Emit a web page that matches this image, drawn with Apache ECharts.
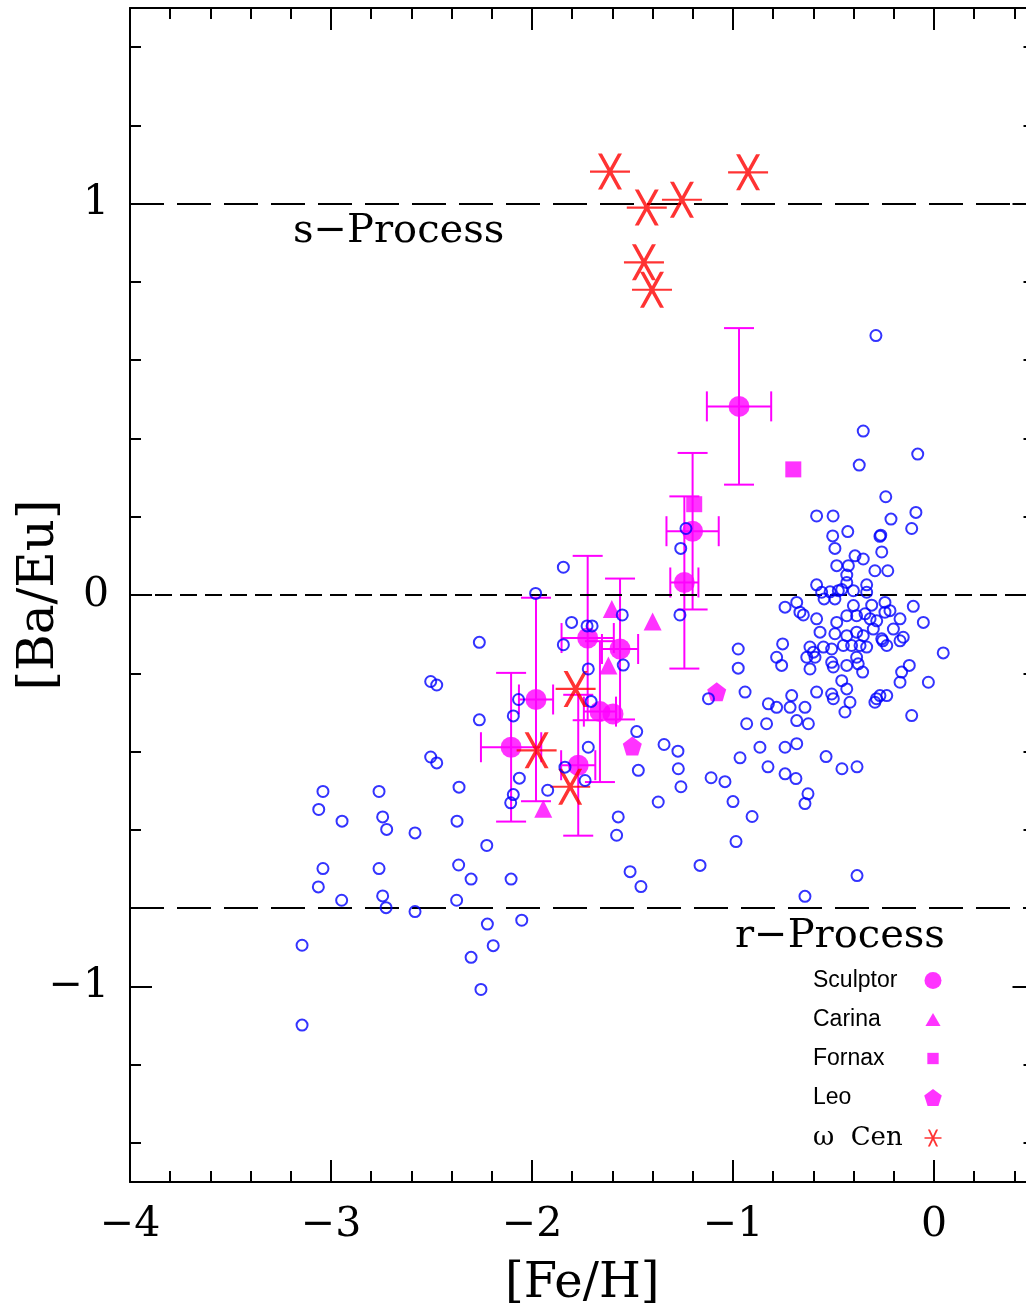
<!DOCTYPE html>
<html><head><meta charset="utf-8">
<script src="https://cdn.jsdelivr.net/npm/echarts@6/dist/echarts.min.js"></script>
<style>html,body{margin:0;padding:0;background:#fff}#c{width:1026px;height:1311px}</style>
</head><body><div id="c"></div>
<script>
// ---------- data ----------
// Field (Milky Way) stars: [Fe/H], [Ba/Eu]
const fieldStars = [
  [-3.144,-0.895],[-3.144,-1.099],[-3.04,-0.502],[-3.061,-0.548],[-2.945,-0.578],[-2.761,-0.502],[-2.743,-0.567],
  [-2.723,-0.599],[-2.582,-0.608],[-2.363,-0.491],[-2.373,-0.578],[-2.225,-0.64],[-3.04,-0.699],[-3.063,-0.746],
  [-2.947,-0.78],[-2.761,-0.699],[-2.743,-0.769],[-2.726,-0.799],[-2.582,-0.809],[-2.365,-0.69],[-2.303,-0.726],
  [-2.104,-0.726],[-2.375,-0.78],[-2.222,-0.841],[-2.051,-0.831],[-2.193,-0.896],[-2.303,-0.926],[-2.254,-1.008],
  [-2.262,-0.121],[-2.504,-0.221],[-2.474,-0.23],[-2.262,-0.319],[-2.504,-0.414],[-2.474,-0.429],[-2.067,-0.267],
  [-2.093,-0.309],[-2.063,-0.468],[-2.093,-0.51],[-2.106,-0.531],[-1.922,-0.499],
  [-1.844,0.071],[-1.982,0.004],[-1.844,-0.127],[-1.803,-0.07],[-1.726,-0.079],[-1.701,-0.079],[-1.551,-0.051],
  [-1.72,-0.189],[-1.546,-0.179],[-1.706,-0.272],[-1.479,-0.349],[-1.343,-0.382],[-1.274,-0.399],[-1.72,-0.389],
  [-1.471,-0.448],[-1.836,-0.44],[-1.736,-0.474],[-1.372,-0.529],[-1.571,-0.567],[-1.579,-0.614],[-1.272,-0.444],
  [-1.259,-0.49],[-1.164,-0.691],[-1.512,-0.707],[-1.458,-0.745],
  [-1.26,0.119],[-1.234,0.17],[-1.264,-0.051],[-0.974,-0.138],[-0.974,-0.187],[-0.94,-0.248],[-1.122,-0.265],
  [-1.109,-0.467],[-1.04,-0.477],[-1.0,-0.528],[-0.985,-0.63],[-0.905,-0.566],[-0.965,-0.416],[-0.932,-0.329],
  [-0.833,-0.329],[-0.866,-0.389],[-0.741,-0.389],[-0.683,-0.38],[-0.826,-0.439],[-0.741,-0.457],[-0.687,-0.469],
  [-0.627,-0.508],[-0.642,-0.533],[-0.642,-0.77],[-0.537,-0.413],[-0.458,-0.444],[-0.383,-0.439],[-0.383,-0.717],
  [-0.289,0.663],[-0.352,0.419],[-0.081,0.36],[-0.372,0.332],[-0.24,0.251],[-0.09,0.211],[-0.214,0.194],
  [-0.111,0.17],[-0.584,0.202],[-0.502,0.202],[-0.504,0.151],[-0.429,0.162],[-0.269,0.15],[-0.265,0.153],
  [-0.493,0.119],[-0.26,0.11],[-0.393,0.1],[-0.352,0.092],[-0.484,0.075],[-0.426,0.075],[-0.294,0.062],
  [-0.23,0.062],[-0.434,0.051],[-0.434,0.032],[-0.584,0.026],[-0.335,0.026],[-0.335,0.007],[-0.559,0.007],
  [-0.517,0.008],[-0.547,-0.01],[-0.493,-0.01],[-0.459,0.014],[-0.401,0.011],[-0.476,0.011],[-0.741,-0.031],
  [-0.683,-0.019],[-0.667,-0.044],[-0.65,-0.051],[-0.401,-0.027],[-0.385,-0.053],[-0.31,-0.026],[-0.244,-0.019],
  [-0.219,-0.04],[-0.103,-0.029],[-0.584,-0.061],[-0.484,-0.07],[-0.434,-0.053],[-0.343,-0.048],[-0.318,-0.061],
  [-0.285,-0.066],[-0.169,-0.061],[-0.053,-0.07],[-0.244,-0.044],[-0.202,-0.087],[-0.567,-0.095],[-0.493,-0.099],
  [-0.434,-0.104],[-0.385,-0.095],[-0.352,-0.104],[-0.302,-0.087],[-0.26,-0.112],[-0.255,-0.117],[-0.235,-0.129],
  [-0.169,-0.117],[-0.153,-0.108],[-0.617,-0.133],[-0.592,-0.159],[-0.6,-0.146],[-0.55,-0.133],[-0.509,-0.138],
  [-0.451,-0.129],[-0.41,-0.129],[-0.368,-0.129],[-0.335,-0.133],[0.046,-0.148],[-0.753,-0.125],[-0.783,-0.159],
  [-0.758,-0.18],[-0.633,-0.159],[-0.617,-0.189],[-0.509,-0.172],[-0.501,-0.184],[-0.434,-0.18],[-0.385,-0.159],
  [-0.377,-0.176],[-0.355,-0.197],[-0.123,-0.18],[-0.161,-0.197],[-0.169,-0.223],[-0.028,-0.223],[-0.459,-0.219],
  [-0.434,-0.24],[-0.584,-0.248],[-0.509,-0.253],[-0.501,-0.265],[-0.708,-0.257],[-0.824,-0.278],[-0.783,-0.287],
  [-0.716,-0.287],[-0.642,-0.287],[-0.418,-0.274],[-0.443,-0.299],[-0.294,-0.274],[-0.286,-0.265],[-0.269,-0.257],
  [-0.235,-0.257],[-0.111,-0.308],[-0.625,-0.329],[-0.683,-0.321]
];

// Sculptor: value and error bars
const sculptorFeH  = [-0.970, -1.201, -1.242, -1.562, -1.723, -1.980, -2.104, -1.770, -1.662, -1.597];
const sculptorBaEu = [ 0.482,  0.163,  0.032, -0.138, -0.110, -0.267, -0.389, -0.435, -0.298, -0.304];
const sculptorFeHErr  = [0.16, 0.13, 0.07, 0.09, 0.13, 0.085, 0.15, 0.085, 0.08, 0];
const sculptorBaEuErr = [0.20, 0.20, 0.22, 0.18, 0.21, 0.26, 0.19, 0.18, 0.18, 0];

const carinaFeH  = [-1.603, -1.400, -1.620, -1.944];
const carinaBaEu = [-0.036, -0.068, -0.180, -0.546];

const fornaxFeH  = [-0.700, -1.193];
const fornaxBaEu = [ 0.321,  0.232];

const leoFeH  = [-1.501, -1.081];
const leoBaEu = [-0.386, -0.247];

const omegaCenFeH  = [-1.612, -0.925, -1.429, -1.254, -1.443, -1.403, -1.783, -1.977, -1.810];
const omegaCenBaEu = [ 1.082,  1.080,  0.990,  1.010,  0.850,  0.780, -0.240, -0.397, -0.490];

// reference levels: s-process, solar, r-process
const processLevels = [1, 0, -0.8];
const axisTitleX = '[Fe/H]';
const axisTitleY = '[Ba/Eu]';

// ---------- chart ----------
const SERIF = 'DejaVu Serif';
const zip = (a, b) => a.map((v, i) => [v, b[i]]);
const fmt = v => {
  const r = Math.round(v);
  if (Math.abs(v - r) > 1e-6) return '';
  return r < 0 ? '\u2212' + Math.abs(r) : String(r);
};
const lineBlack = {color: '#000', width: 2};
function axis(dim, pos, major, showLine) {
  const isX = dim === 'x';
  return {
    type: 'value', position: pos,
    min: isX ? -4 : -1.5, max: isX ? 0.5 : 1.5,
    splitNumber: major ? (isX ? 4 : 3) : (isX ? 22 : 15),
    minInterval: major ? 1 : 0.2, maxInterval: major ? 1 : 0.2,
    axisLine: {show: showLine, onZero: false, lineStyle: lineBlack},
    axisTick: {show: true, inside: true, length: major ? 22 : 11, lineStyle: lineBlack},
    axisLabel: {show: false},
    splitLine: {show: false}
  };
}
const xMain = axis('x', 'bottom', true, true);
xMain.axisLabel = {show: true, formatter: fmt, fontFamily: SERIF, fontSize: 41, lineHeight: 41, color: '#000', margin: 23};
xMain.name = axisTitleX; xMain.nameLocation = 'middle'; xMain.nameGap = 79; xMain.nameMoveOverlap = false;
xMain.nameTextStyle = {fontFamily: SERIF, fontSize: 48, lineHeight: 48, color: '#000'};
const yMain = axis('y', 'left', true, true);
yMain.axisLabel = {show: true, formatter: fmt, fontFamily: SERIF, fontSize: 41, lineHeight: 41, color: '#000', margin: 21};
yMain.name = axisTitleY; yMain.nameLocation = 'middle'; yMain.nameGap = 65; yMain.nameRotate = 90; yMain.nameMoveOverlap = false;
yMain.nameTextStyle = {fontFamily: SERIF, fontSize: 50, lineHeight: 50, color: '#000'};

const asteriskPath = 'path://M0,47 L100,47 L100,53 L0,53 Z M20,0 L30,0 L80,100 L70,100 Z M70,0 L80,0 L30,100 L20,100 Z';
const asteriskIcon = 'path://M0,45 L100,45 L100,55 L0,55 Z M20,0 L32,0 L80,100 L68,100 Z M68,0 L80,0 L32,100 L20,100 Z';
const pentagonPath = 'path://M50,0 L100,37 L81,97 L19,97 L0,37 Z';
const smallSquareIcon = 'path://M0,0 M3,3 L15,3 L15,15 L3,15 Z M18,18';
const smallTriangleIcon = 'path://M0,0 M9,2 L17,16 L1,16 Z M18,18';

function renderErr(params, api) {
  const x = api.value(0), y = api.value(1), ex = api.value(2), ey = api.value(3);
  const st = {stroke: '#ff00ff', lineWidth: 2};
  const cap = 15;
  const ch = [];
  if (ey > 0) {
    const t = api.coord([x, y + ey]), b = api.coord([x, y - ey]);
    ch.push({type: 'line', shape: {x1: t[0], y1: t[1], x2: b[0], y2: b[1]}, style: st});
    ch.push({type: 'line', shape: {x1: t[0] - cap, y1: t[1], x2: t[0] + cap, y2: t[1]}, style: st});
    ch.push({type: 'line', shape: {x1: b[0] - cap, y1: b[1], x2: b[0] + cap, y2: b[1]}, style: st});
  }
  if (ex > 0) {
    const l = api.coord([x - ex, y]), r = api.coord([x + ex, y]);
    ch.push({type: 'line', shape: {x1: l[0], y1: l[1], x2: r[0], y2: r[1]}, style: st});
    ch.push({type: 'line', shape: {x1: l[0], y1: l[1] - cap, x2: l[0], y2: l[1] + cap}, style: st});
    ch.push({type: 'line', shape: {x1: r[0], y1: r[1] - cap, x2: r[0], y2: r[1] + cap}, style: st});
  }
  return {type: 'group', children: ch};
}

const chart = echarts.init(document.getElementById('c'));
chart.setOption({
  animation: false,
  backgroundColor: '#fff',
  grid: {left: 130, top: 8, width: 904.5, height: 1174, containLabel: false, outerBoundsMode: 'none'},
  xAxis: [xMain, axis('x', 'bottom', false, false), axis('x', 'top', true, true), axis('x', 'top', false, false)],
  yAxis: [yMain, axis('y', 'left', false, false), axis('y', 'right', true, true), axis('y', 'right', false, false)],
  legend: {
    orient: 'vertical', left: 813, top: 969, align: 'right', padding: 0,
    itemWidth: 18, itemHeight: 17, itemGap: 16,
    data: ['Sculptor', {name: 'Carina', icon: smallTriangleIcon}, {name: 'Fornax', icon: smallSquareIcon}, 'Leo',
           {name: 'ω Cen', icon: asteriskIcon}],
    formatter: n => n === 'ω Cen' ? '{w|ω  Cen}' : '{t|' + n + '}',
    textStyle: {
      rich: {
        t: {width: 106, align: 'left', fontFamily: 'Liberation Sans', fontSize: 23, lineHeight: 22, color: '#000'},
        w: {width: 106, align: 'left', fontFamily: SERIF, fontSize: 26, lineHeight: 22, color: '#000'}
      }
    }
  },
  graphic: [
    {type: 'text', x: 293, y: 232, style: {text: 's\u2212Process', fontFamily: SERIF, fontSize: 40, fill: '#000', align: 'left', verticalAlign: 'middle'}},
    {type: 'text', x: 735, y: 937, style: {text: 'r\u2212Process', fontFamily: SERIF, fontSize: 40, fill: '#000', align: 'left', verticalAlign: 'middle'}}
  ],
  series: [
    {
      name: 'field', type: 'scatter', data: fieldStars, symbol: 'circle', symbolSize: 11, z: 6, silent: true,
      itemStyle: {color: 'rgba(0,0,0,0)', borderColor: '#0000ff', borderWidth: 2},
      markLine: {
        silent: true, symbol: ['none', 'none'], label: {show: false},
        lineStyle: {color: '#000', width: 2},
        data: processLevels.map((v, i) => ({yAxis: v, lineStyle: {color: '#000', width: 2, type: i === 1 ? [17, 8] : [34, 13]}}))
      }
    },
    {
      name: 'err', type: 'custom', renderItem: renderErr, z: 3, silent: true,
      encode: {x: 0, y: 1},
      data: sculptorFeH.map((v, i) => [v, sculptorBaEu[i], sculptorFeHErr[i], sculptorBaEuErr[i]])
    },
    {name: 'Sculptor', type: 'scatter', data: zip(sculptorFeH, sculptorBaEu), symbol: 'circle', symbolSize: 21, z: 4, itemStyle: {color: '#ff00ff'}},
    {name: 'Carina', type: 'scatter', data: zip(carinaFeH, carinaBaEu), symbol: 'triangle', symbolSize: 18, z: 4, itemStyle: {color: '#ff00ff'}},
    {name: 'Fornax', type: 'scatter', data: zip(fornaxFeH, fornaxBaEu), symbol: 'rect', symbolSize: 16, z: 4, itemStyle: {color: '#ff00ff'}},
    {name: 'Leo', type: 'scatter', data: zip(leoFeH, leoBaEu), symbol: pentagonPath, symbolSize: 19, z: 4, itemStyle: {color: '#ff00ff'}},
    {name: 'ω Cen', type: 'scatter', data: zip(omegaCenFeH, omegaCenBaEu), symbol: asteriskPath, symbolSize: [40, 36], z: 5, itemStyle: {color: '#ff0000'}}
  ]
});
</script>
</body></html>
